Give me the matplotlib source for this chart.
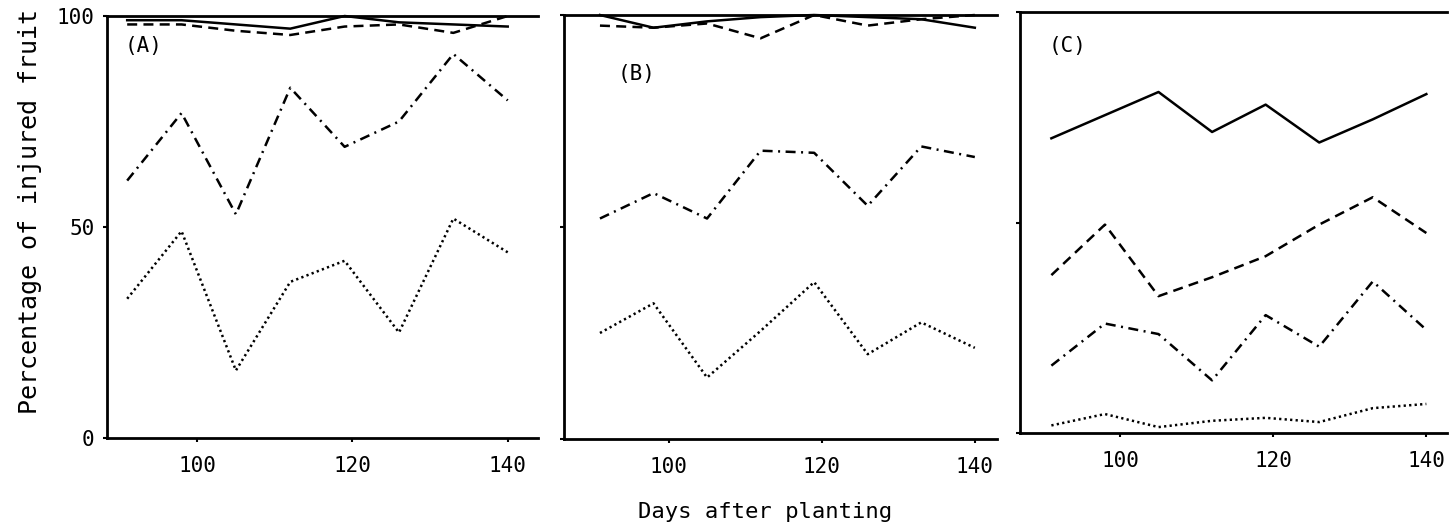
import matplotlib
matplotlib.use("Agg")
import matplotlib.pyplot as plt

days = [91, 98, 105, 112, 119, 126, 133, 140]

A_solid = [99, 99, 98, 97, 100, 98.5, 98, 97.5]
A_dashed = [98, 98, 96.5, 95.5, 97.5, 98, 96, 100]
A_dashdot = [61, 77, 53, 83, 69, 75, 91, 80]
A_dotted = [33, 49, 16, 37, 42, 25, 52, 44]

B_solid = [100, 97, 98.5, 99.5, 100, 99.5, 99, 97]
B_dashed = [97.5, 97, 98, 94.5, 100, 97.5, 99, 100]
B_dashdot = [52, 58, 52, 68, 67.5, 55, 69, 66.5]
B_dotted = [25, 32, 14.5, 25.5, 37, 20, 27.5, 21.5]

C_solid = [70, 75.5, 81, 71.5, 78, 69, 74.5, 80.5]
C_dashed = [37.5, 49.5, 32.5, 37, 42, 49.5, 56, 47.5]
C_dashdot = [16, 26, 23.5, 12.5, 28, 20.5, 36, 24.5]
C_dotted = [1.8, 4.5, 1.4, 2.9, 3.6, 2.6, 5.9, 6.9]

panel_labels = ["(A)", "(B)", "(C)"]
x_ticks = [100, 120, 140]
y_ticks = [0, 50, 100]

FONT = "DejaVu Sans Mono"
plt.rcParams["font.family"] = [FONT]

fig = plt.figure(figsize=(14.51, 5.29), dpi=100)

W, H = 1451, 529
def rect(l, r, t, b):
    return [l / W, 1 - b / H, (r - l) / W, (b - t) / H]

axes_rects = [rect(107, 538, 16, 438), rect(564, 997, 15, 439), rect(1020, 1447, 12, 433)]
xlims = [(88.4, 143.9), (86.3, 142.9), (86.9, 142.7)]
label_pos = [(0.042, 0.93), (0.125, 0.86), (0.066, 0.92)]

series = [
    (A_solid, A_dashed, A_dashdot, A_dotted),
    (B_solid, B_dashed, B_dashdot, B_dotted),
    (C_solid, C_dashed, C_dashdot, C_dotted),
]

lw = 1.8
styles = ["-", (0, (4, 2.5)), (0, (4, 2.2, 0.8, 2.2)), (0, (0.9, 1.3))]

for i, (r, xl, lp, ser) in enumerate(zip(axes_rects, xlims, label_pos, series)):
    ax = fig.add_axes(r)
    for vals, ls in zip(ser, styles):
        ax.plot(days, vals, color="black", lw=lw, linestyle=ls, clip_on=False)
    ax.set_xlim(*xl)
    ax.set_ylim(0, 100)
    ax.spines["right"].set_visible(False)
    for s in ["left", "bottom", "top"]:
        ax.spines[s].set_linewidth(2.0)
    ax.set_xticks(x_ticks)
    ax.set_xticklabels([str(t) for t in x_ticks], fontsize=15, family=FONT)
    ax.set_yticks(y_ticks)
    if i == 0:
        ax.set_yticklabels([str(t) for t in y_ticks], fontsize=15, family=FONT)
    else:
        ax.set_yticklabels([])
    ax.tick_params(axis="x", direction="out", length=3, width=1.5, pad=10)
    ax.tick_params(axis="y", direction="out", length=3, width=1.5, pad=6)
    ax.text(lp[0], lp[1], panel_labels[i], transform=ax.transAxes,
            fontsize=15, family=FONT, ha="left", va="center")

fig.text(30 / W, 1 - 212 / H, "Percentage of injured fruit", rotation=90,
         fontsize=18, family=FONT, ha="center", va="center")
fig.text(765 / W, 1 - 512 / H, "Days after planting", fontsize=16,
         family=FONT, ha="center", va="center")

fig.savefig("out.png", dpi=100, facecolor="white")
